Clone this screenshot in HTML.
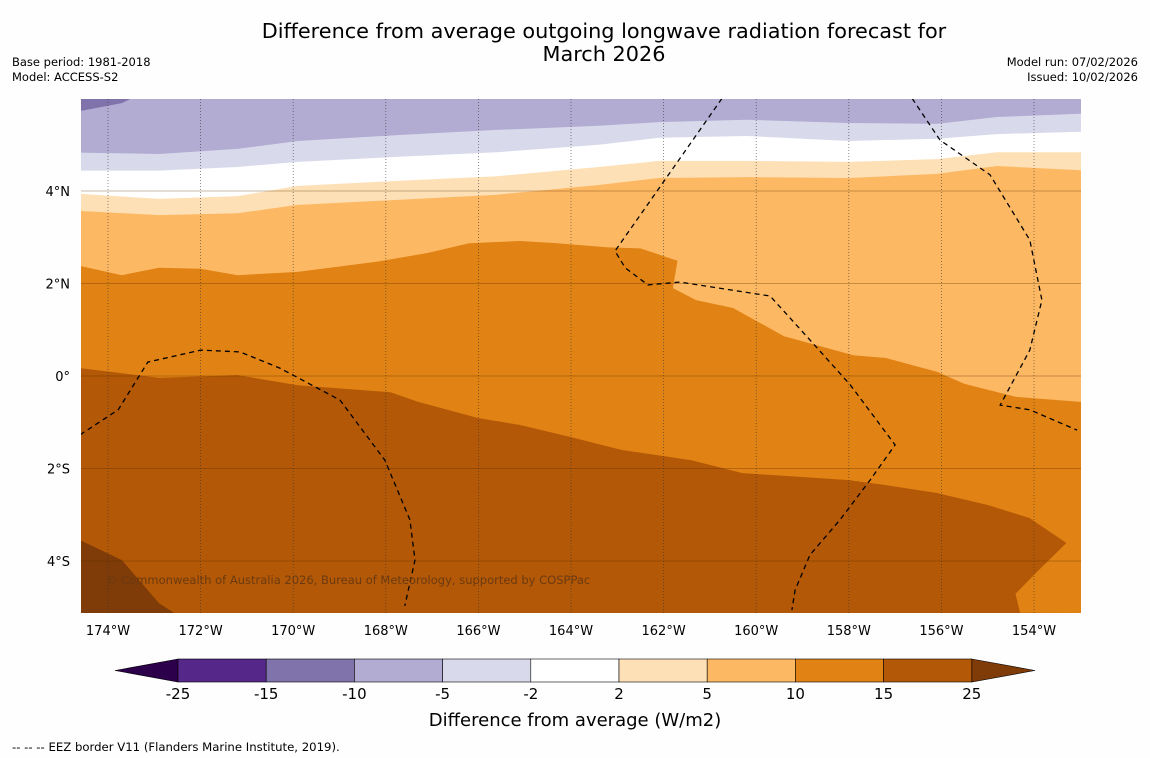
<!DOCTYPE html>
<html><head><meta charset="utf-8">
<style>
body{margin:0;background:#fff;font-family:"DejaVu Sans","Liberation Sans",sans-serif;}
svg{display:block;font-family:"DejaVu Sans","Liberation Sans",sans-serif;}
</style></head>
<body>
<svg id="chart" width="1150" height="758" xmlns="http://www.w3.org/2000/svg">
<rect width="1150" height="758" fill="#fefefe"/>
<text x="604" y="38" font-size="20.8" text-anchor="middle">Difference from average outgoing longwave radiation forecast for</text>
<text x="604" y="61" font-size="20.8" text-anchor="middle">March 2026</text>
<text x="12" y="66" font-size="11.5">Base period: 1981-2018</text>
<text x="12" y="81" font-size="11.5">Model: ACCESS-S2</text>
<text x="1138" y="66" font-size="11.5" text-anchor="end">Model run: 07/02/2026</text>
<text x="1138" y="81" font-size="11.5" text-anchor="end">Issued: 10/02/2026</text>
<defs><clipPath id="mapclip"><rect x="81" y="99" width="1000" height="514"/></clipPath></defs>
<g id="map" clip-path="url(#mapclip)"></g>
<g id="axes"></g>
<g id="cbar"></g>
<text x="575" y="726" font-size="18" text-anchor="middle">Difference from average (W/m2)</text>
<text x="12" y="751" font-size="11.7">--  --  -- EEZ border V11 (Flanders Marine Institute, 2019).</text>
</svg>
<script>
const lonTicks=[-174,-172,-170,-168,-166,-164,-162,-160,-158,-156,-154];
const latTicks=[4,2,0,-2,-4];
const cbarLevels=[-25,-15,-10,-5,-2,2,5,10,15,25];
const cbarColors=["#542788","#8073ac","#b2abd2","#d8daeb","#ffffff","#fee0b6","#fdb863","#e08214","#b35806"];
const bndM5=[[-174.6,4.83],[-172.9,4.8],[-171.2,4.91],[-169.9,5.08],[-167.7,5.21],[-165.6,5.32],[-163.4,5.41],[-162.1,5.49],[-160.2,5.54],[-158.0,5.47],[-156.1,5.45],[-154.8,5.6],[-153.0,5.67]];
const bndM2=[[-174.6,4.44],[-172.9,4.44],[-171.2,4.52],[-169.9,4.63],[-167.7,4.74],[-165.6,4.84],[-163.4,5.0],[-162.1,5.15],[-160.2,5.19],[-158.0,5.08],[-156.1,5.13],[-154.8,5.23],[-153.0,5.28]];
const bndP2=[[-174.6,3.94],[-172.9,3.83],[-171.2,3.89],[-169.9,4.11],[-167.7,4.22],[-165.6,4.32],[-163.4,4.52],[-162.1,4.65],[-160.2,4.65],[-158.0,4.63],[-156.1,4.69],[-154.8,4.84],[-153.0,4.84]];
const bndP5=[[-174.6,3.57],[-172.9,3.48],[-171.2,3.52],[-169.9,3.7],[-167.7,3.81],[-165.6,3.92],[-163.4,4.13],[-162.1,4.28],[-160.2,4.3],[-158.0,4.28],[-156.1,4.37],[-154.8,4.54],[-153.0,4.45]];
const bndP10=[[-174.6,2.38],[-173.7,2.18],[-172.9,2.34],[-172.0,2.32],[-171.2,2.18],[-169.9,2.25],[-168.2,2.47],[-167.1,2.66],[-166.2,2.87],[-165.1,2.92],[-164.3,2.87],[-163.2,2.78],[-162.5,2.76],[-161.7,2.49],[-161.8,1.9],[-161.3,1.64],[-160.5,1.47],[-159.4,0.86],[-157.9,0.45],[-157.2,0.39],[-156.1,0.09],[-155.5,-0.17],[-154.4,-0.45],[-153.0,-0.56]];
const bndP15=[[-174.6,0.17],[-172.9,-0.04],[-171.2,0.02],[-169.9,-0.2],[-167.9,-0.35],[-167.3,-0.56],[-166.0,-0.91],[-165.1,-1.06],[-164.0,-1.32],[-162.9,-1.6],[-161.4,-1.82],[-160.3,-2.1],[-158.0,-2.25],[-157.2,-2.36],[-156.1,-2.53],[-155.0,-2.79],[-154.1,-3.07],[-153.3,-3.61],[-153.9,-4.2],[-154.4,-4.71],[-154.3,-5.12]];
const bndP25=[[-174.6,-3.55],[-173.7,-3.98],[-172.9,-4.91],[-172.3,-5.3]];
const bndCorner=[[-174.6,5.73],[-173.7,5.9],[-173.5,6.0]];
const eez1=[[-174.6,-1.27],[-173.78,-0.73],[-173.14,0.3],[-172.0,0.56],[-171.15,0.52],[-170.29,0.17],[-168.99,-0.52],[-168.02,-1.82],[-167.48,-3.11],[-167.37,-3.98],[-167.59,-4.97]];
const eez2=[[-160.74,6.0],[-163.05,2.7],[-162.83,2.34],[-162.34,1.97],[-161.65,2.03],[-159.7,1.73],[-158.84,0.78],[-157.97,-0.19],[-157.0,-1.49],[-157.54,-2.25],[-158.19,-3.11],[-158.84,-3.87],[-159.16,-4.63],[-159.23,-5.06]];
const eez3=[[-156.63,6.0],[-156.03,5.1],[-154.95,4.35],[-154.09,2.94],[-153.83,1.64],[-154.09,0.56],[-154.73,-0.63],[-154.09,-0.73],[-153.07,-1.17]];

const X=lon=>108+(lon+174)*46.3;
const Y=lat=>376-lat*46.25;
const NS="http://www.w3.org/2000/svg";
function mk(tag,attrs,parent){const e=document.createElementNS(NS,tag);for(const k in attrs)e.setAttribute(k,attrs[k]);parent.appendChild(e);return e;}
const pts=a=>a.map(p=>X(p[0]).toFixed(1)+","+Y(p[1]).toFixed(1)).join(" ");
const map=document.getElementById("map");
let base=mk("rect",{x:81,y:99,width:1000,height:514,fill:"#b35806"},map);


function above(b,color,name){
  const last=b[b.length-1];
  const ly=Y(last[1]);
  const s=pts(b)+" 1081,"+(ly>=612?613:ly)+" 1081,99 81,99";
  const p=mk("polygon",{points:s,fill:color},map);
  
  
}
above(bndP15,"#e08214","band-10-15");
above(bndP10,"#fdb863","band-5-10");
above(bndP5,"#fee0b6","band-2-5");
above(bndP2,"#ffffff","band-neutral");
above(bndM2,"#d8daeb","band-minus5-minus2");
above(bndM5,"#b2abd2","band-minus10-minus5");
let c=mk("polygon",{points:pts(bndCorner)+" 81,99",fill:"#8073ac"},map);


let d=mk("polygon",{points:pts(bndP25)+" 81,613",fill:"#7f3b08"},map);


lonTicks.forEach(l=>{const g=mk("line",{x1:X(l),x2:X(l),y1:99,y2:613,stroke:"#333",'stroke-width':0.8,'stroke-dasharray':"1,2",opacity:0.7},map);

});
latTicks.forEach(l=>{const g=mk("line",{x1:81,x2:1081,y1:Y(l),y2:Y(l),stroke:"#5a3000",'stroke-width':0.8,opacity:0.45},map);

});
[eez1,eez2,eez3].forEach(e=>{const l=mk("polyline",{points:pts(e),fill:"none",stroke:"#000",'stroke-width':1.3,'stroke-dasharray':"5,4"},map);

});
let cp=mk("text",{x:106,y:584,'font-size':11.5,fill:"#6b3a10"},map);cp.textContent="© Commonwealth of Australia 2026, Bureau of Meteorology, supported by COSPPac";


const ax=document.getElementById("axes");
lonTicks.forEach(l=>{const t=mk("text",{x:X(l),y:635,'font-size':13,'text-anchor':"middle"},ax);t.textContent=Math.abs(l)+"°W";

});
latTicks.forEach(l=>{const t=mk("text",{x:70,y:Y(l)+5,'font-size':13,'text-anchor':"end"},ax);t.textContent=l===0?"0°":Math.abs(l)+"°"+(l>0?"N":"S");

});
const cb=document.getElementById("cbar");
const CX=i=>178+i*88.2;
let tl=mk("polygon",{points:"178,659 115,670.5 178,682",fill:"#2d004b",stroke:"#000",'stroke-width':0.6},cb);


let tr=mk("polygon",{points:CX(9)+",659 1035,670.5 "+CX(9)+",682",fill:"#7f3b08",stroke:"#000",'stroke-width':0.6},cb);


cbarColors.forEach((col,i)=>{const r=mk("rect",{x:CX(i),y:659,width:88.2,height:23,fill:col,stroke:"#000",'stroke-width':0.6},cb);

});
cbarLevels.forEach((v,i)=>{const t=mk("text",{x:CX(i),y:699,'font-size':15,'text-anchor':"middle"},cb);t.textContent=v;

});
</script>
</body></html>
